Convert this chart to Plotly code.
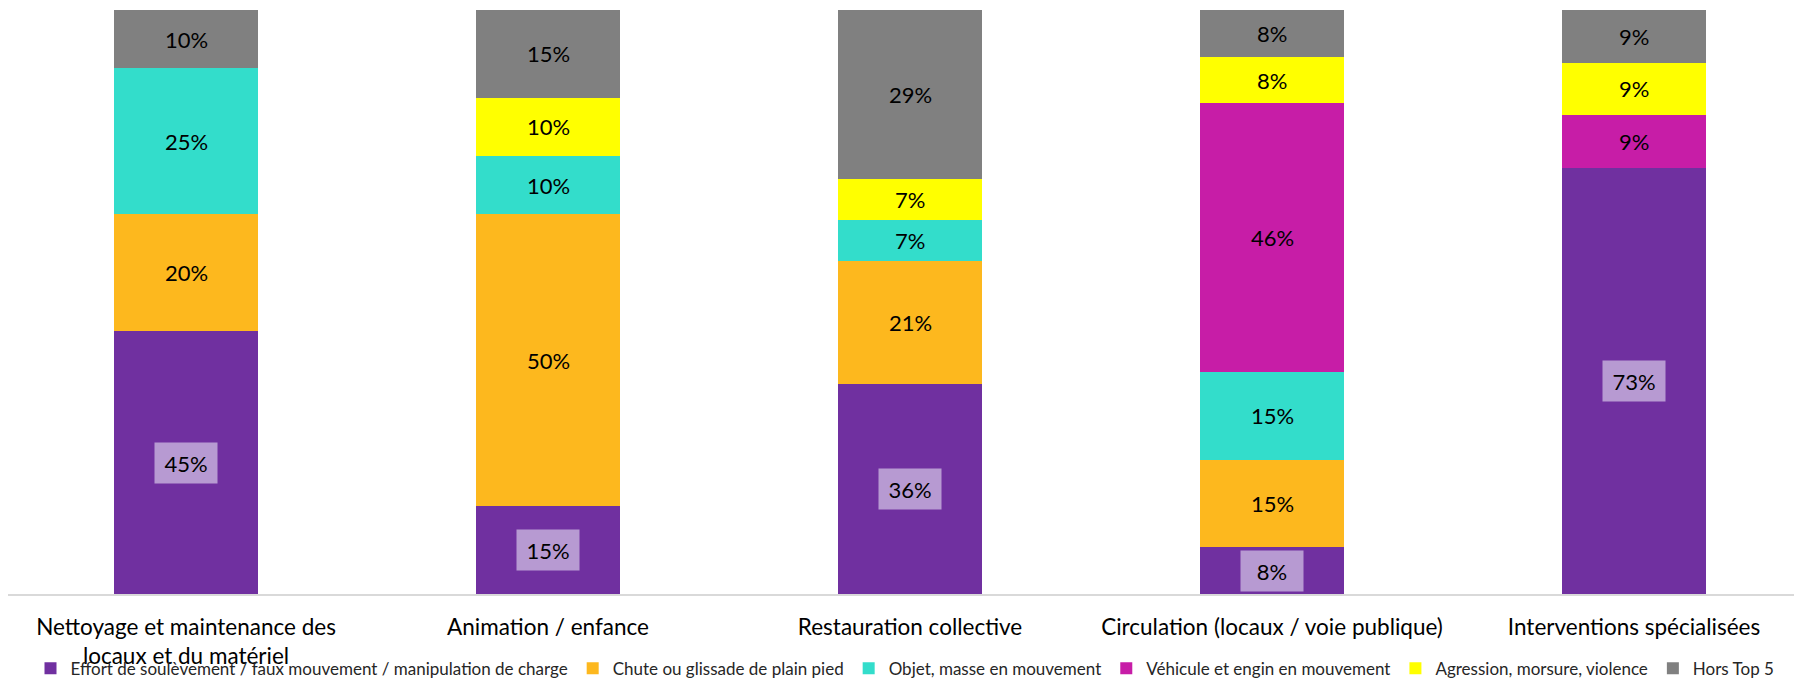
import plotly.graph_objects as go
import numpy as np

categories = ["Nettoyage et maintenance des<br>locaux et du matériel", "Animation / enfance",
              "Restauration collective", "Circulation (locaux / voie publique)",
              "Interventions spécialisées"]
series_names = ["Effort de soulèvement / faux mouvement / manipulation de charge",
                "Chute ou glissade de plain pied", "Objet, masse en mouvement",
                "Véhicule et engin en mouvement", "Agression, morsure, violence", "Hors Top 5"]
effort = [45, 15, 36, 8, 73]
chute = [20, 50, 21, 15, 0]
objet = [25, 10, 7, 15, 0]
vehicule = [0, 0, 0, 46, 9]
agression = [0, 10, 7, 8, 9]
hors = [10, 15, 29, 8, 9]
series_values = [effort, chute, objet, vehicule, agression, hors]
colors = ["#7030A0", "#FDB81E", "#33DDCB", "#C71DA7", "#FFFF00", "#808080"]

FONT = "Lato"
fig = go.Figure()
xs = list(range(len(categories)))
for name, vals, col in zip(series_names, series_values, colors):
    fig.add_trace(go.Bar(x=xs, y=vals, name=name, marker=dict(color=col, line=dict(width=0)),
                         width=0.4, hoverinfo="skip"))

cum = np.zeros(len(categories))
annotations = []
for si, vals in enumerate(series_values):
    v = np.array(vals, dtype=float)
    mids = cum + v / 2
    for i in range(len(categories)):
        if v[i] > 0:
            a = dict(x=xs[i], y=mids[i], text=f"{int(v[i])}%", showarrow=False,
                     font=dict(family=FONT, size=22, color="black"), xref="x", yref="y")
            if si == 0:
                a.update(bgcolor="#B79AD2", borderpad=6, width=50, height=28)
            annotations.append(a)
    cum += v

fig.update_layout(
    width=1794, height=671,
    margin=dict(l=0, r=0, t=2, b=85, autoexpand=False),
    barmode="stack",
    plot_bgcolor="white", paper_bgcolor="white",
    annotations=annotations,
    showlegend=True,
    legend=dict(orientation="h", x=0.5, xanchor="center", y=-0.128, yanchor="middle",
                font=dict(family=FONT, size=17, color="#262626"), traceorder="normal",
                itemwidth=30, bgcolor="rgba(0,0,0,0)"),
    font=dict(family=FONT),
)
fig.update_xaxes(tickmode="array", tickvals=xs, ticktext=categories,
                 range=[-0.4917, 4.464], showline=True, linecolor="#D9D9D9", linewidth=1.5,
                 showgrid=False, zeroline=False, ticks="", ticklabelstandoff=12,
                 tickfont=dict(family=FONT, size=22.5, color="black"), automargin=False)
fig.update_yaxes(range=[0, 100], visible=False, showgrid=False, zeroline=False)

fig.write_html("out.html")
